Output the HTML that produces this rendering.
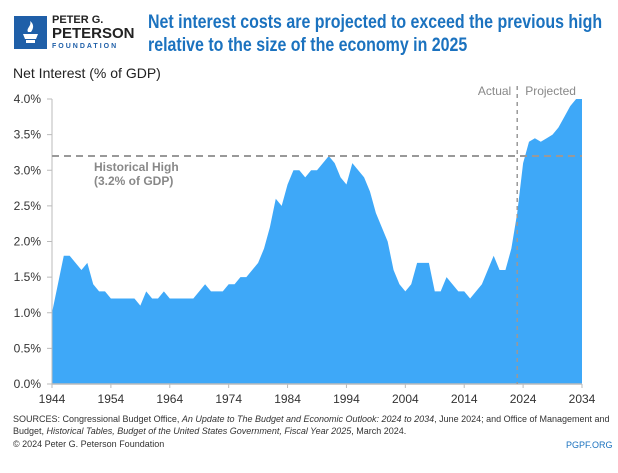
<!DOCTYPE html>
<html><head><meta charset="utf-8">
<style>
body{margin:0;width:618px;height:473px;background:#fff;font-family:"Liberation Sans",sans-serif;overflow:hidden;position:relative}
.abs{position:absolute}
</style></head><body>
<div class="abs" style="left:14px;top:16px;width:33px;height:33px;background:#1f5fa8"></div>
<svg class="abs" style="left:14px;top:16px" width="33" height="33"><path d="M9 18h15l-2 5h-11z M12 24h9v3h-9z" fill="#fff"/><path d="M14 16c-2-4 4-6 2-11c4 3 4 7 1 11z" fill="#fff"/></svg>
<div class="abs" style="left:52px;top:14px;font-weight:bold;color:#222;line-height:12px">
<div style="font-size:11px">PETER G.</div><div style="font-size:15px;line-height:15px">PETERSON</div><div style="font-size:7px;letter-spacing:2px;color:#1f5fa8">FOUNDATION</div></div>
<div class="abs" style="left:148px;top:11px;font-size:19px;font-weight:bold;color:#1b72bf;line-height:23px;white-space:nowrap;transform:scaleX(0.84);transform-origin:0 0">Net interest costs are projected to exceed the previous high<br>relative to the size of the economy in 2025</div>
<div class="abs" style="left:13px;top:65px;font-size:14px;color:#222">Net Interest (% of GDP)</div>
<svg class="abs" style="left:0;top:0" width="618" height="473" id="chart"></svg>
<div class="abs" style="left:13px;top:413px;font-size:9px;color:#333;line-height:12px;width:600px">SOURCES: Congressional Budget Office, <i>An Update to The Budget and Economic Outlook: 2024 to 2034</i>, June 2024; and Office of Management and Budget, <i>Historical Tables, Budget of the United States Government, Fiscal Year 2025</i>, March 2024.</div>
<div class="abs" style="left:13px;top:439px;font-size:9px;color:#333">© 2024 Peter G. Peterson Foundation</div>
<div class="abs" style="left:566px;top:440px;font-size:9px;color:#1b72bf">PGPF.ORG</div>
<script>
const startYear=1944;
const values=[1.0,1.4,1.8,1.8,1.7,1.6,1.7,1.4,1.3,1.3,1.2,1.2,1.2,1.2,1.2,1.1,1.3,1.2,1.2,1.3,1.2,1.2,1.2,1.2,1.2,1.3,1.4,1.3,1.3,1.3,1.4,1.4,1.5,1.5,1.6,1.7,1.9,2.2,2.6,2.5,2.8,3.0,3.0,2.9,3.0,3.0,3.1,3.2,3.1,2.9,2.8,3.1,3.0,2.9,2.7,2.4,2.2,2.0,1.6,1.4,1.3,1.4,1.7,1.7,1.7,1.3,1.3,1.5,1.4,1.3,1.3,1.2,1.3,1.4,1.6,1.8,1.6,1.6,1.9,2.4,3.1,3.4,3.45,3.4,3.45,3.5,3.6,3.75,3.9,4.0,4.0];
const yTicks=[0,0.5,1,1.5,2,2.5,3,3.5,4];
const xTicks=[1944,1954,1964,1974,1984,1994,2004,2014,2024,2034];
const historicalHigh=3.2, splitYear=2023;
const X=y=>52+(y-1944)*(530/90), Y=v=>384-v*(285/4);
const svg=document.getElementById('chart'),NS='http://www.w3.org/2000/svg';
function mk(t,a){const e=document.createElementNS(NS,t);for(const k in a)e.setAttribute(k,a[k]);svg.appendChild(e);return e;}
let d='M'+X(startYear)+','+Y(0);
values.forEach((v,i)=>{d+='L'+X(startYear+i)+','+Y(v);});
d+='L'+X(startYear+values.length-1)+','+Y(0)+'Z';
const area=mk('path',{d:d,fill:'#3ea8f8'});


const ax=mk('line',{x1:52,y1:Y(0),x2:582,y2:Y(0),stroke:'#bbb','stroke-width':1.5});


const ay=mk('line',{x1:52,y1:Y(4),x2:52,y2:Y(0),stroke:'#bbb','stroke-width':1});


yTicks.forEach(v=>{
 const t=mk('text',{x:41,y:Y(v)+4,'text-anchor':'end','font-size':12,fill:'#333','font-family':'Liberation Sans'});
 t.textContent=v.toFixed(1)+'%';
 
 
 mk('line',{x1:47,y1:Y(v),x2:52,y2:Y(v),stroke:'#bbb'});
});
xTicks.forEach(y=>{
 const t=mk('text',{x:X(y),y:403,'text-anchor':'middle','font-size':12,fill:'#333','font-family':'Liberation Sans'});
 t.textContent=y;
 
 
 mk('line',{x1:X(y),y1:Y(0),x2:X(y),y2:Y(0)+4,stroke:'#bbb'});
});
const hh=mk('line',{x1:52,y1:Y(historicalHigh),x2:582,y2:Y(historicalHigh),stroke:'#999','stroke-width':2,'stroke-dasharray':'7,5'});


const sp=mk('line',{x1:X(splitYear),y1:86,x2:X(splitYear),y2:Y(0),stroke:'#999','stroke-width':1.5,'stroke-dasharray':'4,4'});


[['Historical High',181],['(3.2% of GDP)',195]].forEach(([s,y])=>{
 const t=mk('text',{x:94,y:y-10,'font-size':12,fill:'#888','font-weight':'bold','font-family':'Liberation Sans'});
 t.textContent=s;
 
 
});
const ta=mk('text',{x:X(splitYear)-6,y:95,'text-anchor':'end','font-size':12,fill:'#888','font-family':'Liberation Sans'});
ta.textContent='Actual';


const tp=mk('text',{x:X(splitYear)+8,y:95,'font-size':12,fill:'#888','font-family':'Liberation Sans'});
tp.textContent='Projected';


</script>
</body></html>
